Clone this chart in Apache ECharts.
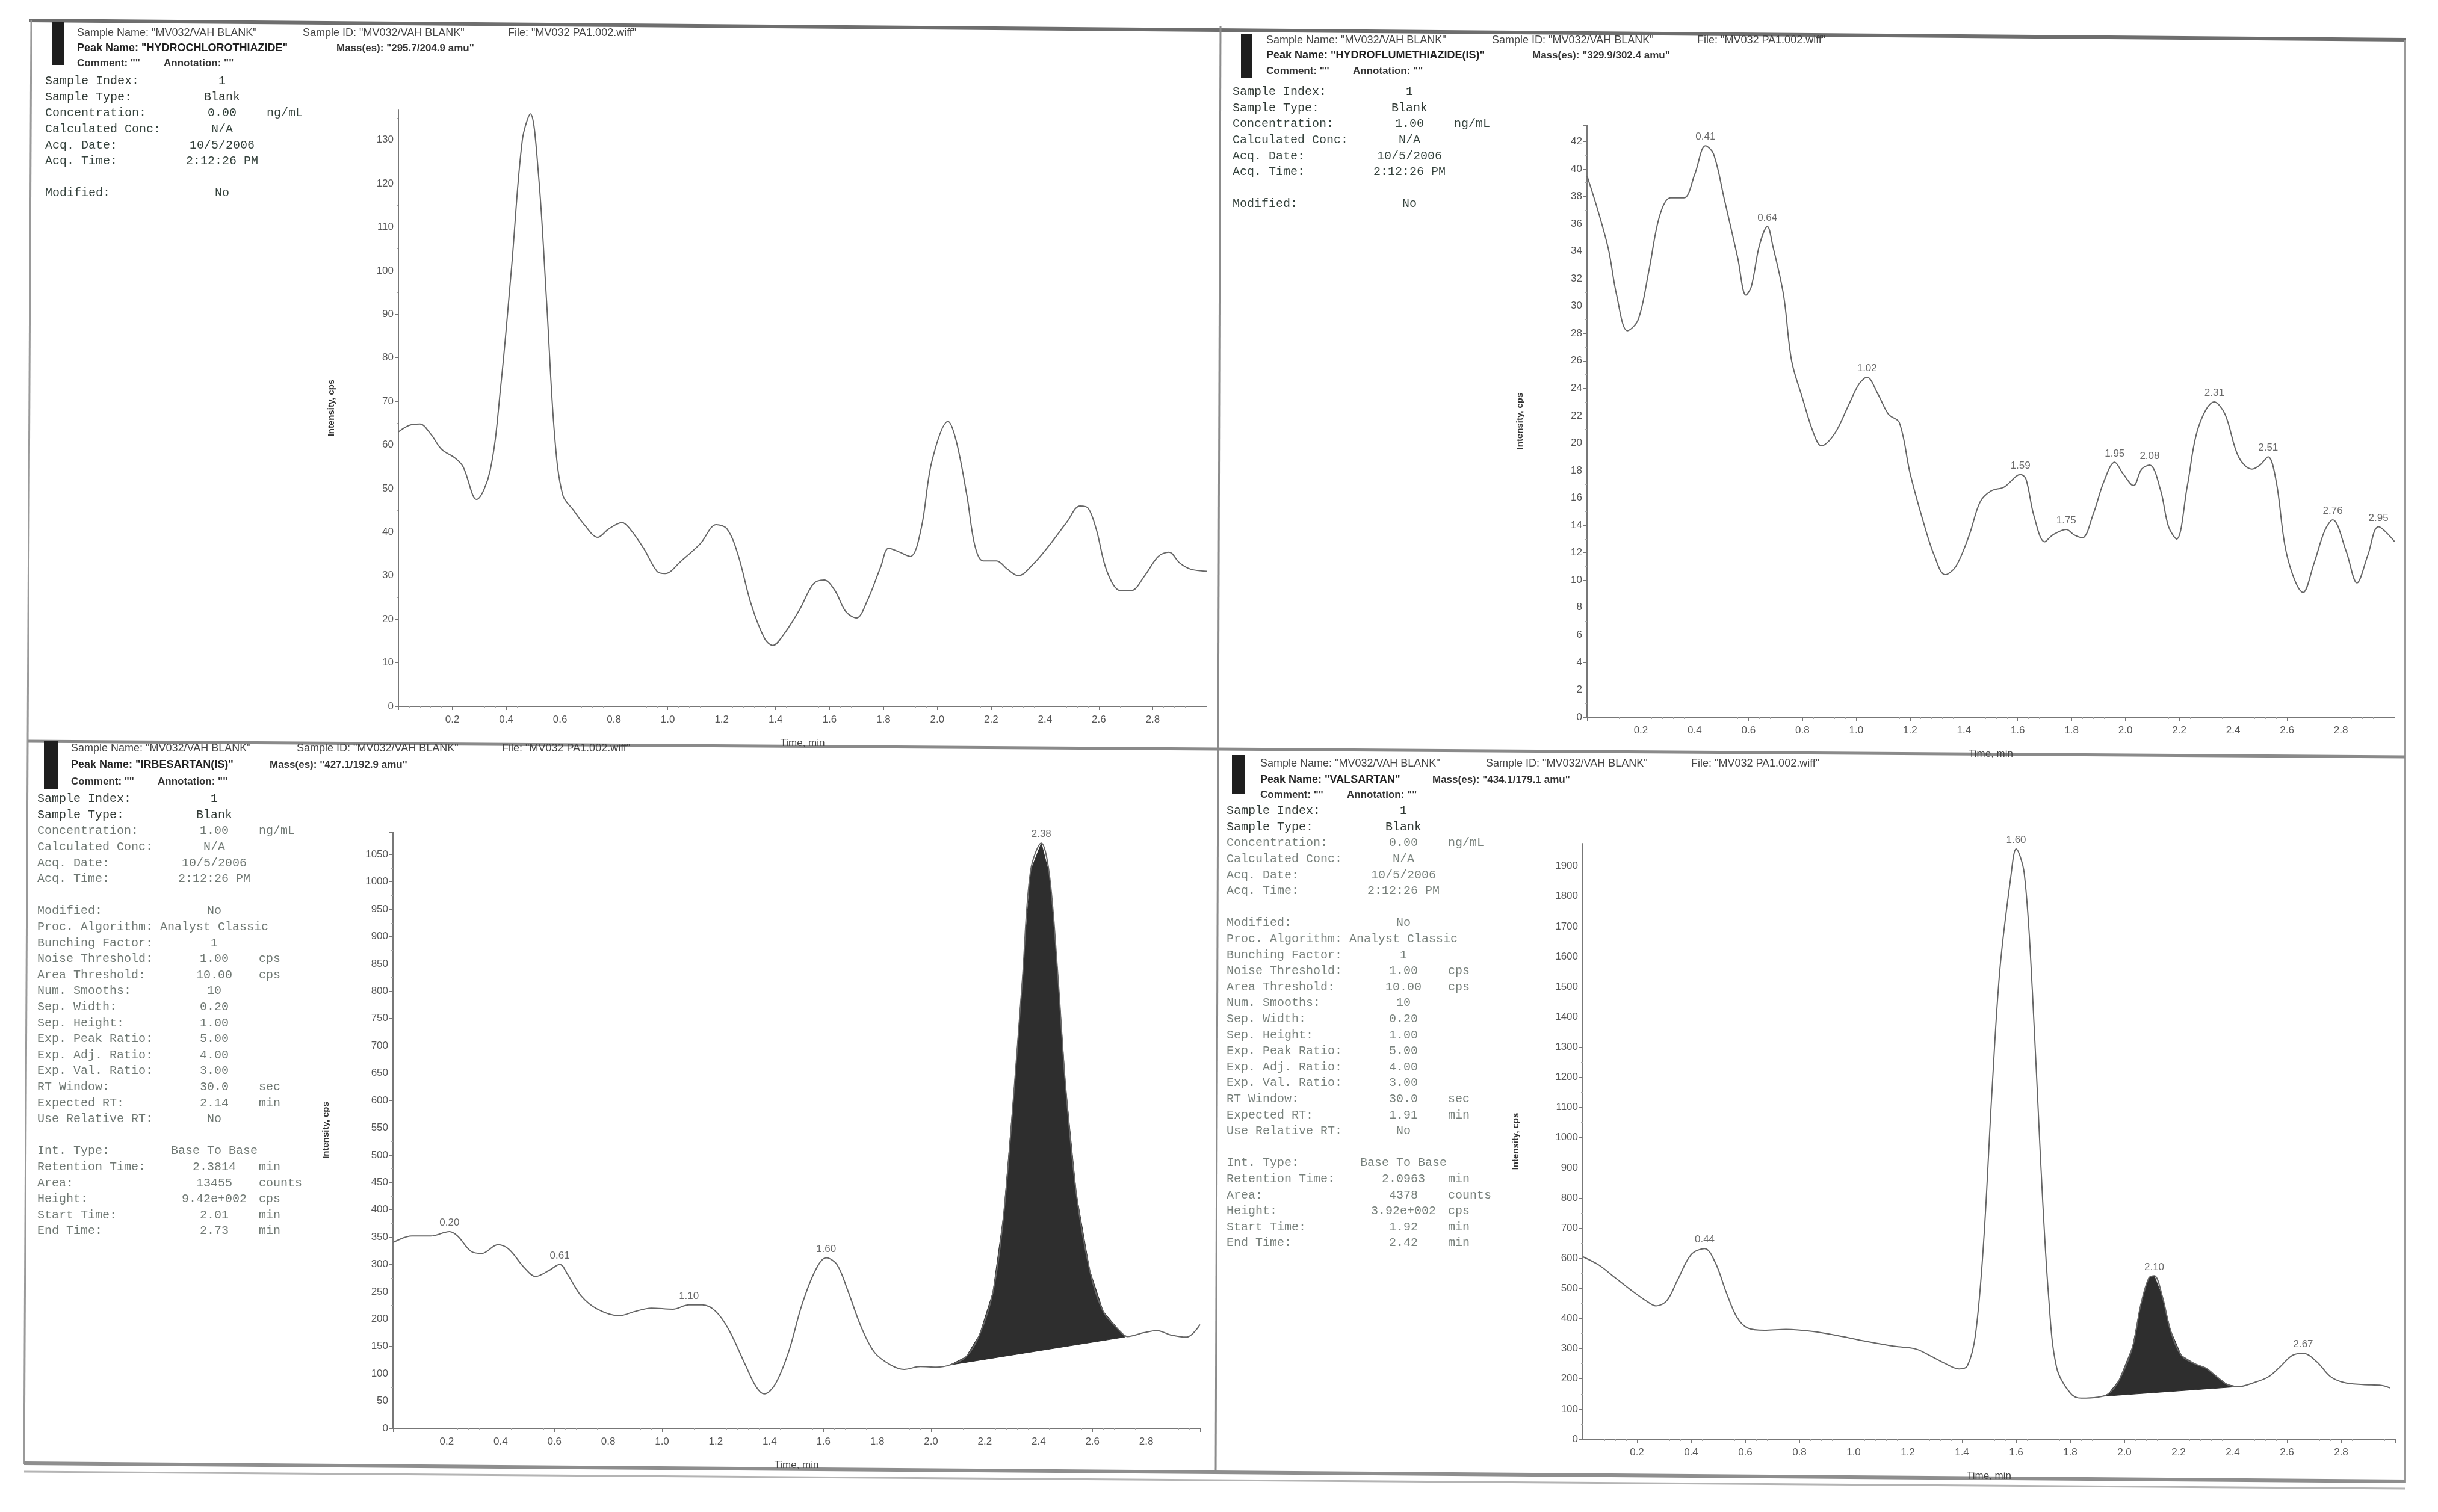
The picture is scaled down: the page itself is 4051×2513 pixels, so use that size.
<!DOCTYPE html>
<html lang="en">
  <head>
    <meta charset="utf-8" />
    <title>MV032/VAH BLANK chromatograms</title>
    <style>
      * {
        margin: 0;
        padding: 0;
      }

      #chart-container {
        position: relative;
        width: 4051px;
        height: 2513px;
        overflow: hidden;
        background: #fff;
      }
    </style>
  </head>

  <body>
    <div id="chart-container"></div>
    <script src="https://cdn.jsdelivr.net/npm/echarts@6/dist/echarts.min.js"></script>
    <script>
      // ---- data ----

      // HYDROCHLOROTHIAZIDE (top left)
      var hctzTime = [0.00, 0.04, 0.08, 0.12, 0.16, 0.21, 0.24, 0.29, 0.34, 0.38, 0.42, 0.46, 0.49, 0.52, 0.55, 0.58, 0.61, 0.65, 0.69, 0.74, 0.78, 0.83, 0.86, 0.91, 0.96, 0.99, 1.05, 1.12, 1.18, 1.22, 1.26, 1.31, 1.36, 1.39, 1.43, 1.49, 1.54, 1.58, 1.62, 1.66, 1.70, 1.74, 1.79, 1.82, 1.86, 1.90, 1.94, 1.98, 2.04, 2.07, 2.11, 2.14, 2.17, 2.22, 2.26, 2.30, 2.36, 2.42, 2.48, 2.53, 2.56, 2.59, 2.63, 2.68, 2.72, 2.77, 2.82, 2.86, 2.90, 2.94, 3.00];
      var hctzCps = [63, 64.5, 64.8, 62.5, 59, 57, 55, 47.5, 54, 73.6, 100.8, 130, 136, 122, 93, 62, 48.5, 45, 41.7, 38.8, 40.7, 42.2, 40.7, 36.3, 31, 30.5, 33.4, 37.3, 41.7, 40.7, 34.9, 23.3, 15.5, 14, 16.5, 22.3, 28.1, 29, 26.6, 21.8, 20.3, 24.2, 32, 36.3, 35.4, 34.4, 40.7, 56.2, 65.4, 61, 48.4, 36.8, 33.4, 33.4, 31.5, 30, 32.9, 37.3, 42.2, 46, 45.5, 40.7, 31, 26.6, 26.6, 30, 34.4, 35.4, 32.9, 31.5, 31];

      // HYDROFLUMETHIAZIDE(IS) (top right)
      var hfmzTime = [0.00, 0.04, 0.08, 0.11, 0.15, 0.19, 0.23, 0.27, 0.31, 0.36, 0.40, 0.44, 0.47, 0.51, 0.56, 0.59, 0.61, 0.64, 0.67, 0.69, 0.73, 0.76, 0.80, 0.84, 0.87, 0.92, 0.97, 1.01, 1.04, 1.08, 1.12, 1.16, 1.20, 1.25, 1.29, 1.33, 1.37, 1.42, 1.46, 1.50, 1.55, 1.61, 1.63, 1.66, 1.70, 1.73, 1.78, 1.81, 1.84, 1.88, 1.92, 1.96, 1.99, 2.03, 2.06, 2.09, 2.13, 2.16, 2.19, 2.23, 2.27, 2.33, 2.37, 2.42, 2.47, 2.50, 2.53, 2.56, 2.60, 2.66, 2.70, 2.74, 2.77, 2.82, 2.86, 2.90, 2.94, 3.00];
      var hfmzCps = [39.5, 37, 34.1, 30.8, 28.2, 29, 32.6, 36.6, 37.9, 37.9, 39.6, 41.7, 41.1, 37.8, 33.5, 30.8, 31.4, 34.4, 35.8, 34.4, 30.8, 26, 23.3, 20.8, 19.8, 20.7, 22.7, 24.3, 24.8, 23.6, 22.1, 21.5, 17.8, 14.2, 11.8, 10.4, 11, 13.3, 15.7, 16.5, 16.8, 17.7, 17.4, 14.7, 12.8, 13.3, 13.7, 13.3, 13.1, 14.8, 17.2, 18.6, 17.8, 16.9, 18.1, 18.4, 16.6, 13.9, 13, 16.9, 21.1, 23, 22.1, 19, 18.1, 18.4, 19, 17.2, 11.8, 9.1, 11.2, 13.6, 14.4, 12.1, 9.8, 11.8, 13.9, 12.8];
      var hfmzPeakTime = [0.44, 0.67, 1.04, 1.61, 1.78, 1.96, 2.09, 2.33, 2.53, 2.77, 2.94];
      var hfmzPeakCps = [41.7, 35.8, 24.8, 17.7, 13.7, 18.6, 18.4, 23, 19, 14.4, 13.9];
      var hfmzPeakText = ['0.41', '0.64', '1.02', '1.59', '1.75', '1.95', '2.08', '2.31', '2.51', '2.76', '2.95'];

      // IRBESARTAN(IS) (bottom left)
      var irbTime = [0.00, 0.07, 0.14, 0.21, 0.24, 0.29, 0.33, 0.39, 0.43, 0.49, 0.53, 0.58, 0.62, 0.65, 0.70, 0.76, 0.84, 0.90, 0.96, 1.04, 1.10, 1.15, 1.20, 1.25, 1.31, 1.35, 1.38, 1.42, 1.47, 1.52, 1.57, 1.61, 1.65, 1.69, 1.74, 1.79, 1.85, 1.90, 1.96, 2.02, 2.07, 2.13, 2.18, 2.23, 2.27, 2.31, 2.34, 2.37, 2.41, 2.44, 2.47, 2.50, 2.54, 2.59, 2.64, 2.70, 2.73, 2.79, 2.84, 2.89, 2.95, 3.00];
      var irbCps = [340, 352, 352, 360, 352, 324, 320, 336, 328, 293, 278, 289, 300, 281, 242, 218, 206, 214, 220, 218, 226, 226, 214, 179, 116, 76, 63, 80, 139, 226, 289, 312, 300, 253, 186, 139, 116, 108, 113, 112, 116, 131, 171, 249, 391, 627, 824, 1020, 1071, 1013, 839, 627, 430, 289, 214, 179, 168, 175, 179, 171, 167, 190];
      var irbPeakTime = [0.21, 0.62, 1.10, 1.61, 2.41];
      var irbPeakCps = [360, 300, 226, 312, 1071];
      var irbPeakText = ['0.20', '0.61', '1.10', '1.60', '2.38'];
      var irbBaseline = [2.07, 116, 2.72, 167];

      // VALSARTAN (bottom right)
      var valTime = [0.00, 0.06, 0.12, 0.18, 0.24, 0.27, 0.31, 0.35, 0.40, 0.45, 0.49, 0.53, 0.57, 0.61, 0.67, 0.75, 0.85, 0.96, 1.06, 1.15, 1.23, 1.28, 1.34, 1.39, 1.42, 1.45, 1.48, 1.51, 1.54, 1.58, 1.60, 1.63, 1.66, 1.69, 1.72, 1.75, 1.80, 1.84, 1.90, 1.94, 1.98, 2.03, 2.06, 2.09, 2.11, 2.14, 2.17, 2.21, 2.26, 2.30, 2.34, 2.38, 2.42, 2.48, 2.53, 2.57, 2.62, 2.66, 2.71, 2.76, 2.81, 2.88, 2.95, 2.98];
      var valCps = [605, 577, 535, 493, 455, 442, 459, 528, 612, 632, 584, 486, 403, 368, 361, 364, 357, 340, 322, 308, 299, 278, 250, 233, 243, 347, 653, 1140, 1557, 1862, 1957, 1876, 1487, 931, 473, 236, 153, 136, 139, 150, 195, 306, 445, 535, 542, 473, 361, 278, 250, 236, 208, 181, 174, 188, 206, 236, 278, 285, 257, 208, 188, 181, 178, 170];
      var valPeakTime = [0.45, 1.60, 2.11, 2.66];
      var valPeakCps = [632, 1957, 542, 285];
      var valPeakText = ['0.44', '1.60', '2.10', '2.67'];
      var valBaseline = [1.92, 142, 2.42, 174];

      // report header and info text
      var headers = [
        [['Sample Name: "MV032/VAH BLANK"', 'Sample ID: "MV032/VAH BLANK"', 'File: "MV032 PA1.002.wiff"'], ['Peak Name: "HYDROCHLOROTHIAZIDE"', 'Mass(es): "295.7/204.9 amu"'], ['Comment: ""', 'Annotation: ""']],
        [['Sample Name: "MV032/VAH BLANK"', 'Sample ID: "MV032/VAH BLANK"', 'File: "MV032 PA1.002.wiff"'], ['Peak Name: "HYDROFLUMETHIAZIDE(IS)"', 'Mass(es): "329.9/302.4 amu"'], ['Comment: ""', 'Annotation: ""']],
        [['Sample Name: "MV032/VAH BLANK"', 'Sample ID: "MV032/VAH BLANK"', 'File: "MV032 PA1.002.wiff"'], ['Peak Name: "IRBESARTAN(IS)"', 'Mass(es): "427.1/192.9 amu"'], ['Comment: ""', 'Annotation: ""']],
        [['Sample Name: "MV032/VAH BLANK"', 'Sample ID: "MV032/VAH BLANK"', 'File: "MV032 PA1.002.wiff"'], ['Peak Name: "VALSARTAN"', 'Mass(es): "434.1/179.1 amu"'], ['Comment: ""', 'Annotation: ""']]
      ];

      var sampleInfoBlank = [
        ['Sample Index:', '1', ''],
        ['Sample Type:', 'Blank', ''],
        ['Concentration:', '0.00', 'ng/mL'],
        ['Calculated Conc:', 'N/A', ''],
        ['Acq. Date:', '10/5/2006', ''],
        ['Acq. Time:', '2:12:26 PM', ''],
        ['', '', ''],
        ['Modified:', 'No', '']
      ];
      var sampleInfoIS = [
        ['Sample Index:', '1', ''],
        ['Sample Type:', 'Blank', ''],
        ['Concentration:', '1.00', 'ng/mL'],
        ['Calculated Conc:', 'N/A', ''],
        ['Acq. Date:', '10/5/2006', ''],
        ['Acq. Time:', '2:12:26 PM', ''],
        ['', '', ''],
        ['Modified:', 'No', '']
      ];
      var irbProcInfo = [
        ['Proc. Algorithm:', 'Analyst Classic', ''],
        ['Bunching Factor:', '1', ''],
        ['Noise Threshold:', '1.00', 'cps'],
        ['Area Threshold:', '10.00', 'cps'],
        ['Num. Smooths:', '10', ''],
        ['Sep. Width:', '0.20', ''],
        ['Sep. Height:', '1.00', ''],
        ['Exp. Peak Ratio:', '5.00', ''],
        ['Exp. Adj. Ratio:', '4.00', ''],
        ['Exp. Val. Ratio:', '3.00', ''],
        ['RT Window:', '30.0', 'sec'],
        ['Expected RT:', '2.14', 'min'],
        ['Use Relative RT:', 'No', ''],
        ['', '', ''],
        ['Int. Type:', 'Base To Base', ''],
        ['Retention Time:', '2.3814', 'min'],
        ['Area:', '13455', 'counts'],
        ['Height:', '9.42e+002', 'cps'],
        ['Start Time:', '2.01', 'min'],
        ['End Time:', '2.73', 'min']
      ];
      var valProcInfo = [
        ['Proc. Algorithm:', 'Analyst Classic', ''],
        ['Bunching Factor:', '1', ''],
        ['Noise Threshold:', '1.00', 'cps'],
        ['Area Threshold:', '10.00', 'cps'],
        ['Num. Smooths:', '10', ''],
        ['Sep. Width:', '0.20', ''],
        ['Sep. Height:', '1.00', ''],
        ['Exp. Peak Ratio:', '5.00', ''],
        ['Exp. Adj. Ratio:', '4.00', ''],
        ['Exp. Val. Ratio:', '3.00', ''],
        ['RT Window:', '30.0', 'sec'],
        ['Expected RT:', '1.91', 'min'],
        ['Use Relative RT:', 'No', ''],
        ['', '', ''],
        ['Int. Type:', 'Base To Base', ''],
        ['Retention Time:', '2.0963', 'min'],
        ['Area:', '4378', 'counts'],
        ['Height:', '3.92e+002', 'cps'],
        ['Start Time:', '1.92', 'min'],
        ['End Time:', '2.42', 'min']
      ];
      var infos = [
        sampleInfoBlank,
        sampleInfoIS,
        sampleInfoIS.concat(irbProcInfo),
        sampleInfoBlank.concat(valProcInfo)
      ];

      // ---- layout ----
      var SANS = '"Liberation Sans", Arial, sans-serif';
      var MONO = '"Liberation Mono", "DejaVu Sans Mono", monospace';
      var LINE = '#666';
      var AXIS = '#777';

      var panelLayout = [
        { bar: [86, 37, 21, 71], hx: 128, hy: [55, 80, 105], massOff: 431, ix: 75, iy: 135, infoColor: '#34423c' },
        { bar: [2062, 57, 18, 73], hx: 2104, hy: [67, 92, 118], massOff: 442, ix: 2048, iy: 153, infoColor: '#34423c' },
        { bar: [73, 1231, 23, 81], hx: 118, hy: [1244, 1271, 1299], massOff: 330, ix: 62, iy: 1328, infoColor: '#6f7873' },
        { bar: [2047, 1255, 22, 65], hx: 2094, hy: [1269, 1296, 1321], massOff: 286, ix: 2038, iy: 1348, infoColor: '#77807b' }
      ];

      var grids = [
        { left: 662, top: 182, right: 4051 - 2005, bottom: 2513 - 1174 },
        { left: 2637, top: 208, right: 4051 - 3979, bottom: 2513 - 1192 },
        { left: 653, top: 1383, right: 4051 - 1994, bottom: 2513 - 2374 },
        { left: 2630, top: 1402, right: 4051 - 3980, bottom: 2513 - 2392 }
      ];
      var yMax = [137, 43.2, 1091, 1975];
      var yStep = [10, 2, 50, 100];

      function zip(t, v) {
        return t.map(function (x, i) {
          return [x, v[i]];
        });
      }

      function peaks(t, v, txt) {
        return t.map(function (x, i) {
          return { value: [x, v[i]], name: txt[i] };
        });
      }

      var curves = [
        zip(hctzTime, hctzCps),
        zip(hfmzTime, hfmzCps),
        zip(irbTime, irbCps),
        zip(valTime, valCps)
      ];

      var xAxes = grids.map(function (g, i) {
        return {
          type: 'value',
          gridIndex: i,
          min: 0,
          max: 3,
          interval: 0.2,
          name: 'Time, min',
          nameLocation: 'middle',
          nameGap: 53,
          nameTextStyle: { fontFamily: SANS, fontSize: 17, color: '#444' },
          axisLine: { onZero: false, lineStyle: { color: AXIS, width: 2 } },
          axisTick: { length: 6, lineStyle: { color: AXIS } },
          minorTick: { show: true, splitNumber: 5, length: 3, lineStyle: { color: '#aaa' } },
          splitLine: { show: false },
          axisLabel: {
            showMinLabel: false,
            showMaxLabel: false,
            fontFamily: SANS,
            fontSize: 17,
            color: '#555',
            margin: 14,
            formatter: function (v) {
              return v.toFixed(1);
            }
          }
        };
      });

      var yAxes = grids.map(function (g, i) {
        return {
          type: 'value',
          gridIndex: i,
          min: 0,
          max: yMax[i],
          interval: yStep[i],
          name: 'Intensity, cps',
          nameLocation: 'middle',
          nameRotate: 90,
          nameGap: 104,
          nameTextStyle: { fontFamily: SANS, fontSize: 15, fontWeight: 'bold', color: '#333' },
          axisLine: { show: true, lineStyle: { color: AXIS, width: 2 } },
          axisTick: { show: true, length: 6, lineStyle: { color: AXIS } },
          minorTick: { show: true, splitNumber: 2, length: 3, lineStyle: { color: '#aaa' } },
          splitLine: { show: false },
          axisLabel: {
            showMaxLabel: false,
            fontFamily: SANS,
            fontSize: 17,
            color: '#555',
            margin: 8,
            // plain integers, no thousands separator
            formatter: function (v) {
              return String(Math.round(v));
            }
          }
        };
      });

      var series = curves.map(function (c, i) {
        return {
          type: 'line',
          xAxisIndex: i,
          yAxisIndex: i,
          data: c,
          showSymbol: false,
          smooth: 0.35,
          lineStyle: { color: LINE, width: 2 },
          z: 3,
          silent: true
        };
      });

      var peakSets = [
        null,
        peaks(hfmzPeakTime, hfmzPeakCps, hfmzPeakText),
        peaks(irbPeakTime, irbPeakCps, irbPeakText),
        peaks(valPeakTime, valPeakCps, valPeakText)
      ];
      peakSets.forEach(function (p, i) {
        if (!p) return;
        series.push({
          type: 'scatter',
          xAxisIndex: i,
          yAxisIndex: i,
          data: p,
          symbolSize: 0,
          z: 4,
          silent: true,
          label: {
            show: true,
            position: 'top',
            distance: 6,
            formatter: '{b}',
            fontFamily: SANS,
            fontSize: 17,
            color: '#444'
          }
        });
      });

      // shaded integrated peak: curve between the baseline end points, closed by the baseline
      function shadedPeak(idx, base) {
        var curve = curves[idx];
        return {
          type: 'custom',
          xAxisIndex: idx,
          yAxisIndex: idx,
          data: [base],
          encode: { x: [0, 2], y: [1, 3] },
          z: 2,
          silent: true,
          renderItem: function (params, api) {
            var t0 = api.value(0), t1 = api.value(2);
            var pts = [api.coord([t0, api.value(1)])];
            curve.forEach(function (p) {
              if (p[0] > t0 && p[0] < t1) pts.push(api.coord(p));
            });
            pts.push(api.coord([t1, api.value(3)]));
            return {
              type: 'polygon',
              shape: { points: pts, smooth: 0 },
              style: { fill: '#2e2e2e', stroke: '#2e2e2e', lineWidth: 1 }
            };
          }
        };
      }
      series.push(shadedPeak(2, irbBaseline));
      series.push(shadedPeak(3, valBaseline));

      // ---- page decoration: frame, header bars, texts ----
      var graphic = [];

      function line(x1, y1, x2, y2, w, c) {
        graphic.push({
          type: 'line',
          silent: true,
          shape: { x1: x1, y1: y1, x2: x2, y2: y2 },
          style: { stroke: c, lineWidth: w }
        });
      }
      // scanned frame, slightly tilted
      line(48, 34, 3998, 66, 6, '#6e6e6e');
      line(52, 34, 40, 2434, 3, '#9a9a9a');
      line(3996, 66, 3996, 2464, 3, '#9a9a9a');
      line(2028, 44, 2020, 2448, 3, '#8c8c8c');
      line(46, 1232, 3996, 1258, 5, '#8a8a8a');
      line(40, 2432, 3996, 2462, 6, '#8e8e8e');
      line(40, 2446, 3996, 2474, 3, '#b4b4b4');

      function text(str, x, y, opt) {
        graphic.push({
          type: 'text',
          silent: true,
          x: x,
          y: y,
          style: {
            text: str,
            fontFamily: opt.family || SANS,
            fontSize: opt.size,
            fontWeight: opt.weight || 'normal',
            fill: opt.color,
            align: opt.align || 'left',
            verticalAlign: 'middle'
          }
        });
      }

      panelLayout.forEach(function (L, i) {
        graphic.push({
          type: 'rect',
          silent: true,
          shape: { x: L.bar[0], y: L.bar[1], width: L.bar[2], height: L.bar[3] },
          style: { fill: '#1e1e1e' }
        });
        var h = headers[i];
        var off1 = [0, 375, 716];
        h[0].forEach(function (s, k) {
          text(s, L.hx + off1[k], L.hy[0], { size: 18, color: '#444' });
        });
        text(h[1][0], L.hx, L.hy[1], { size: 18, weight: 'bold', color: '#222' });
        text(h[1][1], L.hx + L.massOff, L.hy[1], { size: 17, weight: 'bold', color: '#333' });
        text(h[2][0], L.hx, L.hy[2], { size: 17, weight: 'bold', color: '#333' });
        text(h[2][1], L.hx + 144, L.hy[2], { size: 17, weight: 'bold', color: '#333' });

        infos[i].forEach(function (row, r) {
          var y = L.iy + r * 26.6;
          var c = r < 2 ? '#2f3833' : L.infoColor;
          if (row[0]) text(row[0], L.ix, y, { family: MONO, size: 20, color: c });
          if (row[1]) text(row[1], L.ix + 294, y, { family: MONO, size: 20, color: c, align: 'center' });
          if (row[2]) text(row[2], L.ix + 368, y, { family: MONO, size: 20, color: c });
        });
      });

      var dom = document.getElementById('chart-container');
      var myChart = echarts.init(dom, null, { renderer: 'canvas' });

      var option = {
        backgroundColor: '#ffffff',
        animation: false,
        grid: grids,
        xAxis: xAxes,
        yAxis: yAxes,
        series: series,
        graphic: graphic
      };

      myChart.setOption(option);
      window.addEventListener('resize', myChart.resize);
    </script>
  </body>
</html>
